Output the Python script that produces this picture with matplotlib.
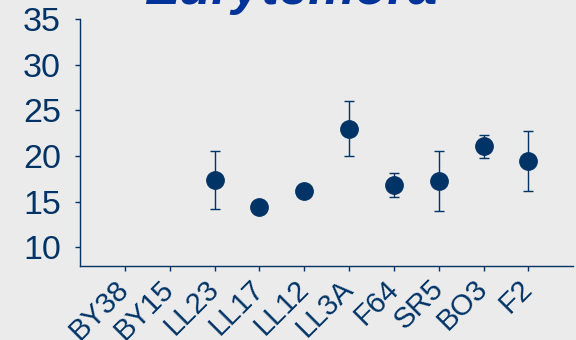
import numpy as np
import matplotlib
matplotlib.use("Agg")
import matplotlib.pyplot as plt

plt.rcParams["font.family"] = ["Liberation Sans", "DejaVu Sans"]

# Station means and error half-widths (no data for the first two stations)
stations = ["BY38", "BY15", "LL23", "LL17", "LL12", "LL3A", "F64", "SR5", "BO3", "F2"]
means = [np.nan, np.nan, 17.35, 14.42, 16.14, 23.0, 16.8, 17.27, 21.07, 19.46]
errors = [np.nan, np.nan, 3.15, 0.0, 0.0, 3.0, 1.3, 3.3, 1.25, 3.3]
yticks = [10, 15, 20, 25, 30, 35]

navy = "#003366"
bg = "#ebebeb"

fig = plt.figure(figsize=(5.76, 3.40), dpi=100, facecolor=bg)
ax = fig.add_axes([0.1389, 0.2185, 0.8564, 0.7256], facecolor=bg)

x = np.arange(len(stations))
err = np.array(errors)
ax.errorbar(x, means, yerr=np.where(err > 0, err, np.nan), fmt="none",
            ecolor=navy, elinewidth=1.0, capsize=3.6, capthick=1.0, zorder=2)
ax.plot(x, means, "o", color=navy, markersize=12.5, zorder=3)

ax.set_xlim(-1, 10)
ax.set_ylim(8, 35)
ax.set_yticks(yticks)
ax.set_xticks(x)
ax.set_xticklabels(stations, rotation=45, ha="right", va="center",
                   rotation_mode="anchor", fontsize=21)

for side in ["top", "right"]:
    ax.spines[side].set_visible(False)
for side in ["left", "bottom"]:
    ax.spines[side].set_color(navy)
    ax.spines[side].set_linewidth(1.0)

ax.tick_params(axis="both", colors=navy, labelcolor=navy,
               length=3.6, width=1.0, direction="out")
ax.tick_params(axis="y", labelsize=24.5, pad=10)
ax.tick_params(axis="x", pad=10)

fig.text(0.505, 1 - 4 / 340, "Eurytemora", ha="center", va="baseline",
         fontsize=38, fontweight="bold", fontstyle="italic", color="#003399")

fig.savefig("out.png", dpi=100, facecolor=bg)
